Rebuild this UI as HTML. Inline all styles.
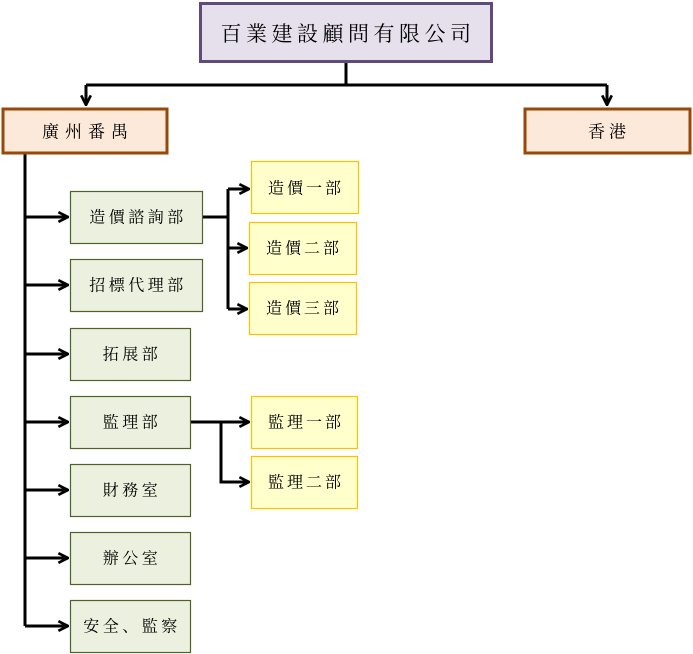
<!DOCTYPE html>
<html><head><meta charset="utf-8"><style>
html,body{margin:0;padding:0;background:#fff;}
svg{display:block;}
text{font-family:"Liberation Serif","Noto Serif CJK SC","Noto Sans CJK TC",serif;fill:#000;text-anchor:middle;dominant-baseline:central;}
</style></head><body>
<svg width="693" height="654" viewBox="0 0 693 654" xmlns="http://www.w3.org/2000/svg">
<defs>
<marker id="a" viewBox="0 0 10 10" refX="9" refY="5" markerWidth="4" markerHeight="4" orient="auto" markerUnits="strokeWidth">
<path d="M1,1 L9,5 L1,9" fill="none" stroke="#000" stroke-width="2.2"/>
</marker>
</defs>
<g stroke="#000" stroke-width="3" fill="none">
<path d="M346,62 V85 M86,85 H607"/>
<path d="M86,85 V105" marker-end="url(#a)"/>
<path d="M607,85 V105" marker-end="url(#a)"/>
<path d="M25,154 V626"/>
<path d="M25,217 H68" marker-end="url(#a)"/>
<path d="M25,285 H68" marker-end="url(#a)"/>
<path d="M25,354 H68" marker-end="url(#a)"/>
<path d="M25,422 H68" marker-end="url(#a)"/>
<path d="M25,490 H68" marker-end="url(#a)"/>
<path d="M25,558 H68" marker-end="url(#a)"/>
<path d="M25,626 H68" marker-end="url(#a)"/>
<path d="M202,217 H228 M228,189 V309"/>
<path d="M228,189 H249" marker-end="url(#a)"/>
<path d="M228,248 H247" marker-end="url(#a)"/>
<path d="M228,309 H247" marker-end="url(#a)"/>
<path d="M190,422 H249" marker-end="url(#a)"/>
<path d="M221,422 V482 H249" marker-end="url(#a)"/>
</g>
<rect x="200.5" y="3.5" width="291" height="58" fill="#e5e0ec" stroke="#604a7b" stroke-width="3"/>
<text x="348" y="34" font-size="21" letter-spacing="4.5">百業建設顧問有限公司</text>
<rect x="3" y="109" width="164" height="44" fill="#fde9d9" stroke="#984807" stroke-width="3"/>
<text x="88" y="132" font-size="17" letter-spacing="6">廣州番禺</text>
<rect x="525" y="109" width="165" height="44" fill="#fde9d9" stroke="#984807" stroke-width="3"/>
<text x="609" y="132" font-size="17" letter-spacing="4">香港</text>
<g fill="#ebf1de" stroke="#4f6228" stroke-width="1.2">
<rect x="70.5" y="191.5" width="132" height="52"/>
<rect x="70.5" y="259.5" width="132" height="52"/>
<rect x="70.5" y="328.5" width="120" height="52"/>
<rect x="70.5" y="396.5" width="120" height="52"/>
<rect x="70.5" y="464.5" width="120" height="52"/>
<rect x="70.5" y="532.5" width="120" height="52"/>
<rect x="70.5" y="600.5" width="120" height="52"/>
</g>
<g font-size="16" letter-spacing="3.5">
<text x="138" y="218">造價諮詢部</text>
<text x="138" y="286">招標代理部</text>
<text x="132" y="355">拓展部</text>
<text x="132" y="423">監理部</text>
<text x="132" y="491">財務室</text>
<text x="132" y="559">辦公室</text>
<text x="132" y="627">安全、監察</text>
</g>
<g fill="#ffffcc" stroke="#ffc000" stroke-width="1.2">
<rect x="251.5" y="161.5" width="107" height="52"/>
<rect x="249.5" y="222.5" width="107" height="52"/>
<rect x="249.5" y="282.5" width="107" height="52"/>
<rect x="251.5" y="396.5" width="106" height="52"/>
<rect x="251.5" y="456.5" width="106" height="52"/>
</g>
<g font-size="16" letter-spacing="3">
<text x="306" y="189">造價一部</text>
<text x="304" y="249">造價二部</text>
<text x="304" y="309">造價三部</text>
<text x="306" y="423">監理一部</text>
<text x="306" y="483">監理二部</text>
</g>
</svg>
</body></html>
